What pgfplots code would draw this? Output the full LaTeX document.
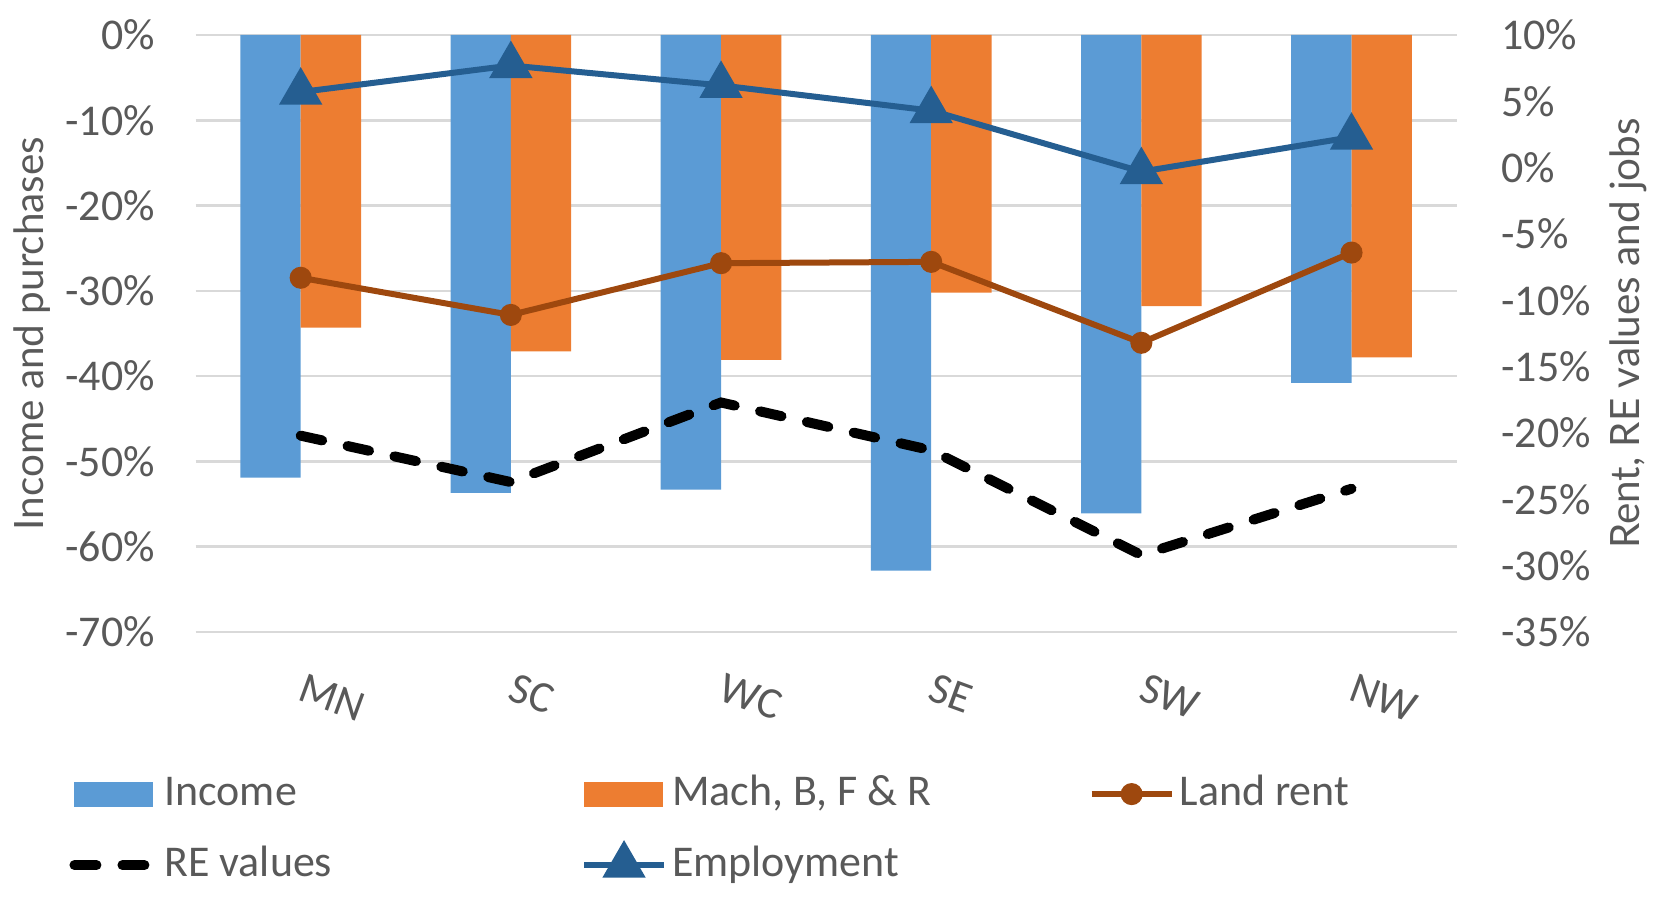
\documentclass[border=0pt]{standalone}
\usepackage{pgfplots}
\pgfplotsset{compat=1.18}
\usepackage{fontspec}
\setmainfont{Carlito}
\newfontfamily\titlefont{Lato}
\definecolor{incomeblue}{HTML}{5B9BD5}
\definecolor{machorange}{HTML}{ED7D31}
\definecolor{rentbrown}{HTML}{9E480E}
\definecolor{empblue}{HTML}{255E91}
\definecolor{textgray}{HTML}{595959}
\definecolor{gridgray}{HTML}{D9D9D9}
\pgfplotsset{
  barlegend/.style={legend image code/.code={\fill[##1] (0mm,-1.25mm) rectangle (7.9mm,1.25mm);}},
  linelegend/.style={legend image code/.code={\draw[mark repeat=2,mark phase=2,##1] plot coordinates {(0mm,0mm) (4mm,0mm) (8mm,0mm)};}},
  common/.style={scale only axis, width=126.1mm, height=59.7mm,
    at={(19.56mm,26.6mm)}, anchor=south west,
    xmin=-0.5, xmax=5.5,
    axis line style={draw=none}, major tick length=0pt, tick style={draw=none},
    ticklabel style={font=\fontsize{12.5}{15}\selectfont, text=textgray},
    label style={font=\titlefont\fontsize{11.5}{14}\selectfont, text=textgray}},
}
\begin{document}
\begin{tikzpicture}
\useasboundingbox (0,0) rectangle (165.8mm,89.8mm);
\begin{axis}[common,
  ymin=-70, ymax=0,
  ytick={-70,-60,-50,-40,-30,-20,-10,0},
  yticklabels={-70\%,-60\%,-50\%,-40\%,-30\%,-20\%,-10\%,0\%},
  ymajorgrids, major grid style={draw=gridgray, line width=0.25mm},
  xtick={0,1,2,3,4,5}, xticklabels={MN,SC,WC,SE,SW,NW},
  xticklabel style={inner sep=0pt, xshift=0.5mm, yshift=-4.0mm, rotate=-20, anchor=north west},
  yticklabel style={inner sep=0pt, xshift=-4mm, anchor=east},
  ylabel={Income and purchases},
  ylabel style={at={(axis description cs:-0.1297,0.5)}, anchor=center},
]
\addplot[ybar, bar width=0.287, bar shift=-0.1435, fill=incomeblue, draw=none]
  coordinates {(0,-51.9) (1,-53.7) (2,-53.3) (3,-62.8) (4,-56.1) (5,-40.8)};
\addplot[ybar, bar width=0.287, bar shift=0.1435, fill=machorange, draw=none]
  coordinates {(0,-34.3) (1,-37.1) (2,-38.1) (3,-30.2) (4,-31.8) (5,-37.8)};
\end{axis}
\begin{axis}[common,
  axis y line*=right, axis x line=none, xtick=\empty,
  ymin=-35, ymax=10,
  ytick={-35,-30,-25,-20,-15,-10,-5,0,5,10},
  yticklabels={-35\%,-30\%,-25\%,-20\%,-15\%,-10\%,-5\%,0\%,5\%,10\%},
  yticklabel style={inner sep=0pt, xshift=4.4mm, anchor=west},
  ylabel={Rent, RE values and jobs},
  ylabel style={at={(axis description cs:1.136,0.5)}, anchor=center},
  legend columns=3,
  legend cell align=left,
  legend style={draw=none, fill=none, inner sep=0pt,
    at={(axis description cs:-0.1006,-0.236)}, anchor=north west,
    font=\fontsize{12.5}{15}\selectfont, text=textgray,
    nodes={inner xsep=0.5mm, inner ysep=0pt, text height=3.2mm, text depth=0.9mm},
    /tikz/every odd column/.style={column sep=0pt},
    /tikz/every even column/.style={column sep=0pt},
    row sep=3.0mm},
]
\addlegendimage{barlegend, fill=incomeblue, draw=none}
\addlegendentry{\makebox[41.16mm][l]{Income}}
\addlegendimage{barlegend, fill=machorange, draw=none}
\addlegendentry{\makebox[41.16mm][l]{Mach, B, F \& R}}
\addplot[linelegend, rentbrown, line width=0.6mm, mark=*, mark size=0.8mm, mark options={solid}]
  coordinates {(0,-8.3) (1,-11.1) (2,-7.2) (3,-7.1) (4,-13.2) (5,-6.4)};
\addlegendentry{Land rent}
\addplot[linelegend, black, line width=1.0mm, dash pattern=on 2.2mm off 2.6mm, line cap=round, mark=none]
  coordinates {(0,-20.2) (1,-23.7) (2,-17.7) (3,-21.3) (4,-29.2) (5,-24.2)};
\addlegendentry{\makebox[41.16mm][l]{RE values}}
\addplot[linelegend, empblue, line width=0.6mm, mark=triangle*, mark size=1.9mm, mark options={solid}]
  coordinates {(0,5.7) (1,7.7) (2,6.2) (3,4.3) (4,-0.3) (5,2.3)};
\addlegendentry{\makebox[41.16mm][l]{Employment}}
\end{axis}
\end{tikzpicture}
\end{document}
